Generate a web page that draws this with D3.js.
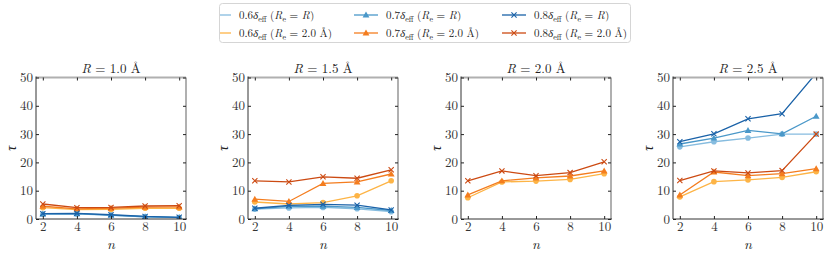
<!DOCTYPE html>
<html><head><meta charset="utf-8">
<script src="https://cdn.jsdelivr.net/npm/d3@7"></script>
<style>body{margin:0;background:#fff}svg{display:block}
svg text{font-family:"Latin Modern Roman","CMU Serif","Liberation Serif",serif !important}</style>
</head><body>
<script>
const nValues = [2, 4, 6, 8, 10];
const panelTitles = ["1.0", "1.5", "2.0", "2.5"];
const yTicks = [0, 10, 20, 30, 40, 50];
const xTicks = [2, 4, 6, 8, 10];
// each series: one array of tau per panel (R = 1.0, 1.5, 2.0, 2.5 Å)
const tau06_R   = [[1.7, 1.8, 1.3, 0.8, 0.5], [3.5, 3.9, 4.1, 3.6, 2.6], null, [25.5, 27.3, 28.6, 30.0, 30.0]];
const tau07_R   = [[1.8, 1.9, 1.4, 0.8, 0.6], [3.6, 4.5, 4.5, 4.1, 3.0], null, [26.5, 28.6, 31.3, 30.1, 36.3]];
const tau08_R   = [[1.9, 2.0, 1.5, 0.9, 0.6], [3.8, 4.8, 5.2, 4.9, 3.2], null, [27.3, 30.1, 35.4, 37.2, 51.5]];
const tau06_2A  = [[4.0, 3.3, 3.4, 3.8, 3.8], [6.0, 5.3, 5.8, 8.2, 13.5], [7.5, 13.1, 13.4, 14.0, 16.0], [7.8, 13.2, 13.8, 14.7, 16.7]];
const tau07_2A  = [[4.5, 3.6, 3.8, 4.2, 4.3], [7.0, 6.2, 12.6, 13.1, 15.9], [8.5, 13.5, 14.5, 15.2, 17.0], [8.5, 16.6, 15.3, 16.0, 17.8]];
const tau08_2A  = [[5.3, 4.0, 4.1, 4.6, 4.7], [13.5, 13.1, 14.9, 14.4, 17.4], [13.5, 17.0, 15.3, 16.4, 20.2], [13.6, 17.0, 16.3, 17.1, 30.0]];
const seriesLabels = [
  {k: "0.6", r: "R"}, {k: "0.6", r: "2.0 Å"},
  {k: "0.7", r: "R"}, {k: "0.7", r: "2.0 Å"},
  {k: "0.8", r: "R"}, {k: "0.8", r: "2.0 Å"}
];
const seriesData = [tau06_R, tau06_2A, tau07_R, tau07_2A, tau08_R, tau08_2A];
const seriesColors = ["#86bcdf", "#fdb446", "#4a98c9", "#f47d1f", "#1a62a8", "#cc4a12"];
const seriesMarkers = ["circle", "circle", "triangle", "triangle", "x", "x"];

const W = 830, H = 255;
const svg = d3.select("body").append("svg").attr("width", W).attr("height", H);

const pw = 150, pTop = 77.5, pBottom = 219;
const lefts = [36, 248, 461, 673];

function drawMarker(g, type, x, y, color) {
  if (type === "circle") {
    g.append("circle").attr("cx", x).attr("cy", y).attr("r", 2.8).attr("fill", color);
  } else if (type === "triangle") {
    const s = 3.4;
    g.append("path").attr("d", `M${x},${y - s}L${x + s},${y + s * 0.75}L${x - s},${y + s * 0.75}Z`).attr("fill", color);
  } else {
    const s = 2.6;
    g.append("path").attr("d", `M${x - s},${y - s}L${x + s},${y + s}M${x - s},${y + s}L${x + s},${y - s}`)
      .attr("stroke", color).attr("stroke-width", 1.1).attr("fill", "none");
  }
}

lefts.forEach((L, pi) => {
  const x = d3.scaleLinear().domain([1.6, 10.4]).range([L, L + pw]);
  const y = d3.scaleLinear().domain([0, 50]).range([pBottom, pTop]);
  const g = svg.append("g");
  const clipId = "clip" + pi;
  svg.append("clipPath").attr("id", clipId).append("rect")
    .attr("x", L).attr("y", pTop).attr("width", pw).attr("height", pBottom - pTop);

  const dg = g.append("g").attr("clip-path", `url(#${clipId})`);
  seriesData.forEach((s, si) => {
    const vals = s[pi];
    if (!vals) return;
    const pts = nValues.map((n, i) => [n, vals[i]]);
    dg.append("path").datum(pts)
      .attr("d", d3.line().x(d => x(d[0])).y(d => y(d[1])))
      .attr("fill", "none").attr("stroke", seriesColors[si]).attr("stroke-width", 1.3);
    pts.forEach(p => drawMarker(dg, seriesMarkers[si], x(p[0]), y(p[1]), seriesColors[si]));
  });

  g.append("line").attr("x1", L).attr("x2", L + pw).attr("y1", pTop).attr("y2", pTop).attr("stroke", "#b0b0b0").attr("stroke-width", 2);
  g.append("line").attr("x1", L + pw).attr("x2", L + pw).attr("y1", pTop).attr("y2", pBottom).attr("stroke", "#b0b0b0").attr("stroke-width", 2);
  g.append("line").attr("x1", L).attr("x2", L).attr("y1", pTop - 1).attr("y2", pBottom).attr("stroke", "#333").attr("stroke-width", 1);
  g.append("line").attr("x1", L).attr("x2", L + pw + 1).attr("y1", pBottom).attr("y2", pBottom).attr("stroke", "#333").attr("stroke-width", 1);

  const ax = g.append("g").attr("transform", `translate(0,${pBottom})`)
    .call(d3.axisBottom(x).tickValues(xTicks).tickSizeInner(-3).tickSizeOuter(0).tickPadding(3));
  const ay = g.append("g").attr("transform", `translate(${L},0)`)
    .call(d3.axisLeft(y).tickValues(yTicks).tickSizeInner(-3).tickSizeOuter(0).tickPadding(3));
  const axT = g.append("g").attr("transform", `translate(0,${pTop})`)
    .call(d3.axisTop(x).tickValues(xTicks).tickSizeInner(-3).tickSizeOuter(0).tickFormat(""));
  const ayR = g.append("g").attr("transform", `translate(${L + pw},0)`)
    .call(d3.axisRight(y).tickValues(yTicks).tickSizeInner(-3).tickSizeOuter(0).tickFormat(""));
  [ax, ay, axT, ayR].forEach(a => {
    a.attr("font-family", null);
    a.select(".domain").remove();
    a.selectAll(".tick line").attr("stroke", "#222");
    a.selectAll("text").attr("font-size", 13).attr("fill", "#333");
  });

  const t = g.append("text").attr("x", L + pw / 2).attr("y", pTop - 5)
    .attr("text-anchor", "middle").attr("font-size", 13).attr("fill", "#222");
  t.append("tspan").attr("font-style", "italic").text("R");
  t.append("tspan").text(" = " + panelTitles[pi] + " Å");

  g.append("text").attr("x", L + pw / 2).attr("y", 249).attr("text-anchor", "middle")
    .attr("font-size", 14).attr("font-style", "italic").attr("fill", "#222").text("n");
  g.append("text").attr("transform", `translate(${L - 26},${(pTop + pBottom) / 2}) rotate(-90)`)
    .attr("text-anchor", "middle").attr("dominant-baseline", "central")
    .attr("font-size", 14).attr("font-style", "italic").attr("fill", "#222").text("τ");
});

const lg = svg.append("g");
lg.append("rect").attr("x", 219.5).attr("y", 3.5).attr("width", 411).attr("height", 39).attr("rx", 3)
  .attr("fill", "#fff").attr("stroke", "#d5d5d5").attr("stroke-width", 1);
const colText = [239, 386, 534];
const rowY = [15, 33];
seriesLabels.forEach((s, si) => {
  const col = Math.floor(si / 2), row = si % 2;
  const tx = colText[col], cy = rowY[row];
  const x1 = Math.max(tx - 32, 220), x2 = tx - 8;
  lg.append("line").attr("x1", x1).attr("x2", x2).attr("y1", cy).attr("y2", cy)
    .attr("stroke", seriesColors[si]).attr("stroke-width", 1.3);
  const mx = tx - 20;
  if (mx > 222) drawMarker(lg, seriesMarkers[si], mx, cy, seriesColors[si]);
  const t = lg.append("text").attr("x", tx).attr("y", cy + 4)
    .attr("font-size", 11).attr("fill", "#222");
  t.append("tspan").text(s.k);
  t.append("tspan").attr("font-style", "italic").text("δ");
  t.append("tspan").attr("font-size", 8).attr("dy", 2.5).text("eff");
  t.append("tspan").attr("dy", -2.5).text(" (");
  t.append("tspan").attr("font-style", "italic").text("R");
  t.append("tspan").attr("font-size", 8).attr("dy", 2.5).text("e");
  t.append("tspan").attr("dy", -2.5).text(" = ");
  if (s.r === "R") t.append("tspan").attr("font-style", "italic").text("R");
  else t.append("tspan").text(s.r);
  t.append("tspan").text(")");
});
</script>
</body></html>
